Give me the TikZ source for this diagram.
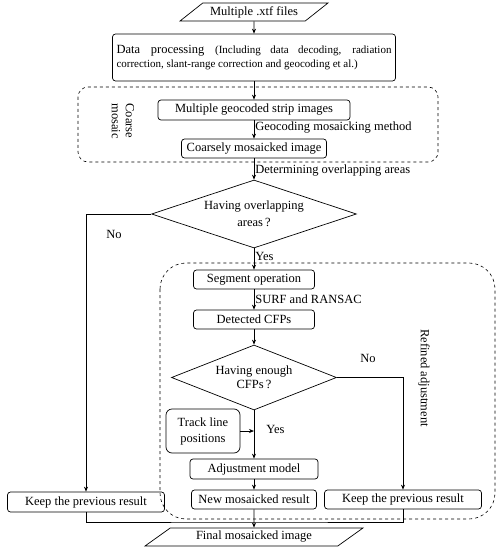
\documentclass[tikz,border=0pt]{standalone}
\usepackage{fontspec}
\setmainfont{Liberation Serif}
\usetikzlibrary{shapes.geometric,arrows.meta}
\begin{document}
\begin{tikzpicture}[x=1pt,y=-1pt,
  every node/.style={font=\fontsize{12.5}{14}\selectfont},
  box/.style={draw, rounded corners=3pt, inner sep=1pt, align=center},
  para/.style={draw, trapezium, trapezium stretches=true, inner sep=1pt},
  dia/.style={draw, diamond, aspect=3, inner sep=0pt, align=center},
  lbl/.style={inner sep=1pt, anchor=west},
  grp/.style={draw, dashed, line width=0.6pt},
  arr/.style={-{Stealth[length=5pt,width=4pt]}},
  line width=0.7pt]
\useasboundingbox (0,0) rectangle (500,548);
% groups
\draw[grp, rounded corners=10pt] (78,87) rectangle (438,162);
\draw[grp, rounded corners=26pt] (160,263) rectangle (495,519);
\node[rotate=-90, align=center, inner sep=0pt] (cmlbl) at (123,121) {Coarse\\mosaic};
\node[rotate=-90, inner sep=0pt] (ralbl) at (424,378) {Refined adjustment};
% nodes
\node[para, trapezium left angle=34, trapezium right angle=146, minimum width=148pt, minimum height=18pt] (in) at (254,12) {Multiple .xtf files};
\node[box, minimum width=283pt, minimum height=47pt, text width=275pt, align=justify] (dp) at (254,57.5)
  {\baselineskip=19pt Data processing {\fontsize{11}{19}\selectfont(Including data decoding, radiation\linebreak correction, slant-range correction and geocoding et al.)}};
\node[box, minimum width=192pt, minimum height=20pt] (mg) at (254,110) {Multiple geocoded strip images};
\node[box, minimum width=145pt, minimum height=19pt] (cm) at (254,148.5) {Coarsely mosaicked image};
\node[dia, minimum width=205pt, minimum height=68pt] (d1) at (254,214) {Having overlapping\\[3pt]areas\,?};
\node[box, minimum width=121pt, minimum height=19pt] (so) at (254,279.5) {Segment operation};
\node[box, minimum width=121pt, minimum height=19pt] (dc) at (254,319.5) {Detected CFPs};
\node[dia, minimum width=165pt, minimum height=65pt] (d2) at (254,377.5) {Having enough\\CFPs\,?};
\node[box, rounded corners=6pt, minimum width=74pt, minimum height=44pt] (tl) at (203,431) {Track line\\[2pt]positions};
\node[box, minimum width=128pt, minimum height=20pt] (am) at (254,469) {Adjustment model};
\node[box, minimum width=125pt, minimum height=19pt] (nm) at (254,499.5) {New mosaicked result};
\node[box, minimum width=157pt, minimum height=19pt] (kr) at (403,499.5) {Keep the previous result};
\node[box, minimum width=157pt, minimum height=20pt] (kl) at (86,502) {Keep the previous result};
\node[para, trapezium left angle=37, trapezium right angle=143, minimum width=218pt, minimum height=18pt] (fi) at (254,537) {Final mosaicked image};
% connectors
\draw[arr] (in.south) -- (dp.north);
\draw[arr] (dp.south) -- (mg.north);
\draw[arr] (mg.south) -- node[lbl, pos=0.4] {Geocoding mosaicking method} (cm.north);
\draw[arr] (cm.south) -- node[lbl, pos=0.55] {Determining overlapping areas} (d1.north);
\draw[arr] (d1.south) -- node[lbl, pos=0.4] {Yes} (so.north);
\draw[arr] (d1.west) -| (kl.north);
\node (no1) at (114,234) {No};
\draw[arr] (so.south) -- node[lbl] {SURF and RANSAC} (dc.north);
\draw[arr] (dc.south) -- (d2.north);
\draw[arr] (d2.south) -- (am.north);
\node[lbl] (yes2) at (265,429) {Yes};
\draw[arr] (tl.east) -- (tl.east -| am.north);
\draw[arr] (d2.east) -| (kr.north);
\node (no2) at (368,358) {No};
\draw[arr] (am.south) -- (nm.north);
\draw[arr] (nm.south) -- (fi.north);
\coordinate (j) at (254,522);
\draw (kl.south) |- (j) -| (kr.south);
\end{tikzpicture}
\end{document}
